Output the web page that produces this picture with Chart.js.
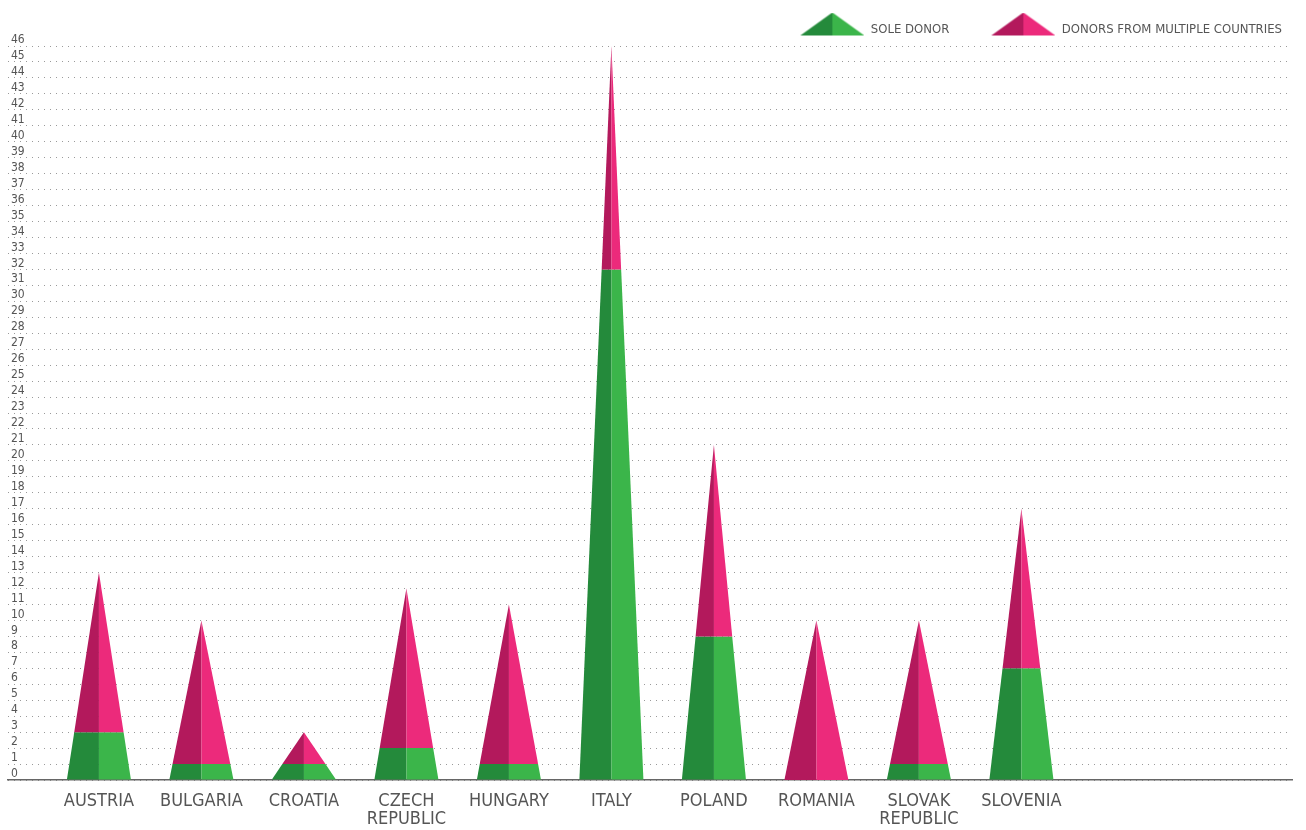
<!DOCTYPE html>
<html>
<head>
<meta charset="utf-8">
<script src="https://cdn.jsdelivr.net/npm/chart.js@4"></script>
<style>
  body { margin: 0; background: #fff; }
  #wrap { width: 1306px; height: 830px; }
</style>
</head>
<body>
<div id="wrap"><canvas id="myChart"></canvas></div>
<script>
// Data
const countries = ["AUSTRIA", "BULGARIA", "CROATIA", ["CZECH", "REPUBLIC"], "HUNGARY",
    "ITALY", "POLAND", "ROMANIA", ["SLOVAK", "REPUBLIC"], "SLOVENIA"];
const soleDonor = [3, 1, 1, 2, 1, 32, 9, 0, 1, 7];
const multiDonor = [10, 9, 2, 10, 10, 14, 12, 10, 9, 10];
const yTicks = { min: 0, max: 46, step: 1 };

const FONT = "'Liberation Sans Narrow', 'DejaVu Sans Condensed', sans-serif";
const GREEN = ["#248a3b", "#3bb54a"];
const PINK = ["#b3195c", "#ec2a7b"];

// small pyramid icon for the legend (blank space on the left = gap between items)
const makeIcon = function (colors) {
    const c = document.createElement("canvas");
    c.width = 96;
    c.height = 34;
    const g = c.getContext("2d");
    g.fillStyle = colors[0];
    g.beginPath();
    g.moveTo(32, 23); g.lineTo(64, 0); g.lineTo(64, 23); g.closePath();
    g.fill();
    g.fillStyle = colors[1];
    g.beginPath();
    g.moveTo(64, 0); g.lineTo(96, 23); g.lineTo(64, 23); g.closePath();
    g.fill();
    return c;
};

// Draw each stacked bar as a two-tone pyramid
const pyramids = {
    id: "pyramids",
    afterDatasetsDraw(chart) {
        const ctx = chart.ctx;
        const low = chart.getDatasetMeta(0).data;
        const high = chart.getDatasetMeta(1).data;
        ctx.save();
        low.forEach((bar, i) => {
            const top = high[i];
            const cx = bar.x;
            const base = bar.base;
            const mid = bar.y;
            const apex = top.y;
            const hw = bar.width / 2;
            const half = (y) => hw * (y - apex) / (base - apex);
            const hm = half(mid);
            const poly = (pts, color) => {
                ctx.fillStyle = color;
                ctx.beginPath();
                ctx.moveTo(pts[0][0], pts[0][1]);
                for (let k = 1; k < pts.length; k++) ctx.lineTo(pts[k][0], pts[k][1]);
                ctx.closePath();
                ctx.fill();
            };
            if (base - mid > 0.5) {
                poly([[cx - hw, base], [cx, base], [cx, mid], [cx - hm, mid]], GREEN[0]);
                poly([[cx, base], [cx + hw, base], [cx + hm, mid], [cx, mid]], GREEN[1]);
            }
            poly([[cx - hm, mid], [cx, mid], [cx, apex]], PINK[0]);
            poly([[cx, mid], [cx + hm, mid], [cx, apex]], PINK[1]);
        });
        ctx.restore();
    },
};

const ctx = document.getElementById("myChart");

new Chart(ctx, {
    type: "bar",
    data: {
        datasets: [
            {
                label: "SOLE DONOR",
                data: soleDonor.map((v, i) => ({ x: i, y: v })),
                backgroundColor: "rgba(0,0,0,0)",
                barThickness: 64,
            },
            {
                label: "DONORS FROM MULTIPLE COUNTRIES",
                data: multiDonor.map((v, i) => ({ x: i, y: v })),
                backgroundColor: "rgba(0,0,0,0)",
                barThickness: 64,
            },
        ],
    },
    plugins: [pyramids],
    options: {
        responsive: true,
        maintainAspectRatio: false,
        animation: false,
        layout: { padding: { left: 2, right: 14, top: 13, bottom: -10 } },
        plugins: {
            tooltip: { enabled: false },
            legend: {
                position: "top",
                align: "end",
                labels: {
                    usePointStyle: true,
                    pointStyleWidth: 96,
                    padding: 10,
                    color: "#555",
                    font: { family: FONT, size: 13 },
                    generateLabels: function (chart) {
                        const icons = [makeIcon(GREEN), makeIcon(PINK)];
                        return chart.data.datasets.map((ds, i) => ({
                            text: ds.label,
                            pointStyle: icons[i],
                            fontColor: "#555",
                            lineWidth: 0,
                            strokeStyle: "rgba(0,0,0,0)",
                            fillStyle: "rgba(0,0,0,0)",
                            datasetIndex: i,
                        }));
                    },
                },
            },
        },
        scales: {
            x: {
                type: "linear",
                stacked: true,
                offset: false,
                min: -0.887,
                max: 11.64,
                afterBuildTicks: (scale) => {
                    scale.ticks = countries.map((c, i) => ({ value: i }));
                },
                grid: { display: false, drawTicks: false },
                border: { display: true, color: "#666", width: 1.5 },
                ticks: {
                    autoSkip: false,
                    maxRotation: 0,
                    padding: 12,
                    color: "#555",
                    font: { family: FONT, size: 18, lineHeight: 1.0 },
                    callback: (v) => countries[v],
                },
            },
            y: {
                stacked: true,
                min: yTicks.min,
                max: yTicks.max,
                grid: { color: "#9a9a9a", drawTicks: false, lineWidth: 1 },
                border: { display: false, dash: [1, 5] },
                ticks: {
                    stepSize: yTicks.step,
                    autoSkip: false,
                    mirror: true,
                    padding: 3,
                    labelOffset: -6,
                    color: "#555",
                    font: { family: FONT, size: 12 },
                },
            },
        },
    },
});
</script>
</body>
</html>
